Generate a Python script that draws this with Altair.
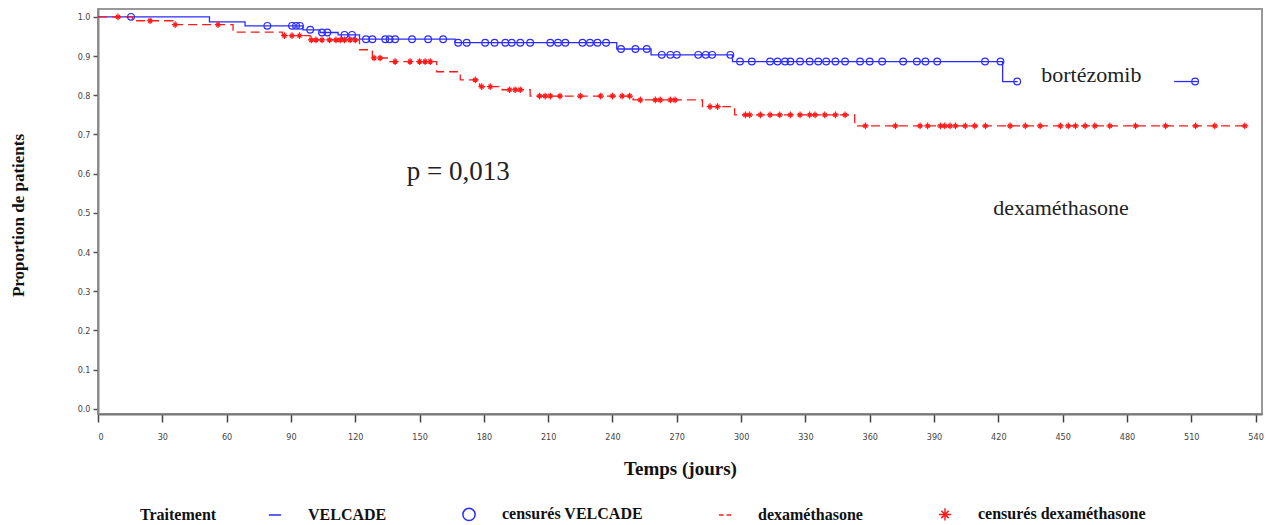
import bisect
import altair as alt
import pandas as pd

# ---- Kaplan-Meier step data ----
blue_days = [0, 52, 68.6, 95.6, 103.6, 112, 122, 166.6, 242, 258, 296, 422]
blue_surv = [1.0, 0.987, 0.977, 0.967, 0.96, 0.954, 0.943, 0.934, 0.918, 0.903, 0.886, 0.835]
blue_end = 429
blue_tail_days = [502, 513]

red_days = [0, 16, 35, 63, 86, 99, 122, 128, 135, 158, 169, 178, 188.5, 201.6, 249.6, 282, 297, 353]
red_surv = [1.0, 0.99, 0.98, 0.961, 0.952, 0.941, 0.916, 0.895, 0.886, 0.86, 0.839, 0.822, 0.814,
            0.798, 0.788, 0.771, 0.75, 0.722]
red_end = 537

blue_cens = [15.4, 79, 90.5, 92.4, 94.2, 99, 104.5, 107, 115, 118.5, 125, 128, 134, 136, 138.6,
             146.5, 154, 161, 168, 172, 180.6, 185, 190, 193, 197, 201.6, 211, 214.6, 218, 226,
             229.5, 233, 237, 244, 250.7, 256, 263, 267, 270, 280, 283.5, 286.5, 295, 299.5, 305,
             313.5, 317, 320.5, 323, 327.5, 332, 336, 339.7, 344, 348.5, 355.5, 360, 365.8, 375.6,
             382, 386, 391.5, 413.8, 421, 428.8, 511.8]
red_cens = [9.3, 24.3, 36, 56, 87, 90.5, 94, 99.5, 101.7, 104.5, 108, 111, 113, 115, 117.6, 120,
            128.8, 131.6, 138.6, 145.6, 150, 152.6, 155, 176, 179, 183, 192, 194.6, 197, 206,
            208.6, 211, 215.5, 225, 234.5, 240, 244.5, 248, 253, 260, 262.3, 267, 269.2, 285.5,
            289, 302, 304, 309, 313.5, 318, 323, 327.5, 332, 334.5, 339, 344, 348.5, 358, 372,
            383.5, 387, 393, 395, 397.5, 400, 404.6, 409, 414, 425.5, 432.6, 439.5, 449, 452.6,
            456, 460.5, 465, 472, 484, 498, 512, 521, 535]

legend_items = ["VELCADE", "censurés VELCADE", "dexaméthasone", "censurés dexaméthasone"]

ann_labels = ["bortézomib", "dexaméthasone"]
ann_days = [440, 417.6]
ann_surv = [0.852, 0.513]
pval_text = ["p = 0,013"]
pval_day = [144]
pval_surv = [0.605]

x_ticks = list(range(0, 541, 30))
y_ticks = [0.0, 0.1, 0.2, 0.3, 0.4, 0.5, 0.6, 0.7, 0.8, 0.9, 1.0]


def step_value(days, surv, t):
    i = bisect.bisect_right(days, t) - 1
    return surv[max(i, 0)]


blue_rows = [{"day": d, "surv": s, "seg": "a"} for d, s in zip(blue_days, blue_surv)]
blue_rows.append({"day": blue_end, "surv": blue_surv[-1], "seg": "a"})
blue_rows += [{"day": d, "surv": blue_surv[-1], "seg": "b"} for d in blue_tail_days]
blue_df = pd.DataFrame(blue_rows)

red_rows = [{"day": d, "surv": s} for d, s in zip(red_days, red_surv)]
red_rows.append({"day": red_end, "surv": red_surv[-1]})
red_df = pd.DataFrame(red_rows)

cens_rows = [{"day": d, "surv": step_value(blue_days, blue_surv, d), "legend": legend_items[1]}
             for d in blue_cens]
cens_rows += [{"day": d, "surv": step_value(red_days, red_surv, d), "legend": legend_items[3]}
              for d in red_cens]
cens_df = pd.DataFrame(cens_rows)

ann_df = pd.DataFrame({"day": ann_days, "surv": ann_surv, "label": ann_labels})
p_df = pd.DataFrame({"day": pval_day, "surv": pval_surv, "label": pval_text})

serif = "Liberation Serif"
tick_font = "DejaVu Sans Condensed"

x_enc = alt.X(
    "day:Q",
    scale=alt.Scale(domain=[0, 543], nice=False, zero=False),
    axis=alt.Axis(
        values=x_ticks, format="d", title="Temps (jours)", grid=False,
        labelFont=tick_font, labelFontSize=9, labelColor="#444",
        tickSize=8, tickColor="#444", tickWidth=1.5, labelPadding=10,
        domainColor="#777", domainWidth=2,
        titleFont=serif, titleFontSize=19, titleFontWeight="bold", titleColor="#111",
        titleX=582, titleY=54, titleBaseline="middle",
    ),
)
y_enc = alt.Y(
    "surv:Q",
    scale=alt.Scale(domain=[-0.013, 1.02], nice=False, zero=False),
    axis=alt.Axis(
        values=y_ticks, format=".1f", title="Proportion de patients", grid=False,
        labelFont=tick_font, labelFontSize=9, labelColor="#444",
        tickSize=5, tickColor="#555", tickWidth=1.5, labelPadding=3,
        domainColor="#888", domainWidth=2,
        titleFont=serif, titleFontSize=17, titleFontWeight="bold", titleColor="#111",
        titleX=-80, titleY=206, titleAngle=-90, titleBaseline="middle", titleAlign="center",
    ),
)

blue_line = alt.Chart(blue_df).mark_line(
    interpolate="step-after", color="#2b2bff", strokeWidth=1.3
).encode(x=x_enc, y=y_enc, detail="seg:N")

red_line = alt.Chart(red_df).mark_line(
    interpolate="step-after", color="#ff1a1a", strokeWidth=1.3, strokeDash=[9, 5]
).encode(x=x_enc, y=y_enc)

shape_paths = [
    "M-1,0L1,0",
    "circle",
    "M-1,0L-0.25,0M0.25,0L1,0",
    "M-1,0L1,0M0,-1L0,1M-0.6,-0.6L0.6,0.6M-0.6,0.6L0.6,-0.6",
]
leg = alt.Legend(
    title="Traitement", orient="none", legendX=42, legendY=497, direction="horizontal",
    titleOrient="left", titlePadding=50, titleFont=serif, titleFontSize=16,
    titleFontWeight="bold", titleColor="#111", titleBaseline="middle",
    labelFont=serif, labelFontSize=16, labelFontWeight="bold", labelColor="#111",
    labelLimit=0, symbolSize=150, symbolStrokeWidth=1.5, labelOffset=25, columnPadding=72,
)
points = alt.Chart(cens_df).mark_point(filled=False, size=45, strokeWidth=1.2, opacity=1).encode(
    x=x_enc, y=y_enc,
    color=alt.Color("legend:N", scale=alt.Scale(domain=legend_items,
                    range=["#2b2bff", "#2b2bff", "#ff1a1a", "#ff1a1a"]), legend=leg),
    shape=alt.Shape("legend:N", scale=alt.Scale(domain=legend_items, range=shape_paths), legend=leg),
)

ann = alt.Chart(ann_df).mark_text(
    font=serif, fontSize=22, align="left", baseline="middle", color="#222"
).encode(x=x_enc, y=y_enc, text="label:N")

pv = alt.Chart(p_df).mark_text(
    font=serif, fontSize=27, align="left", baseline="middle", color="#222"
).encode(x=x_enc, y=y_enc, text="label:N")

chart = alt.layer(blue_line, red_line, points, ann, pv).properties(
    width=1164, height=405,
    autosize=alt.AutoSizeParams(type="none"),
    padding={"left": 90, "top": 1, "right": 8, "bottom": 110},
).configure_view(stroke="#999", strokeWidth=2)

chart.save("out.html", embed_options={"renderer": "svg", "actions": False})
